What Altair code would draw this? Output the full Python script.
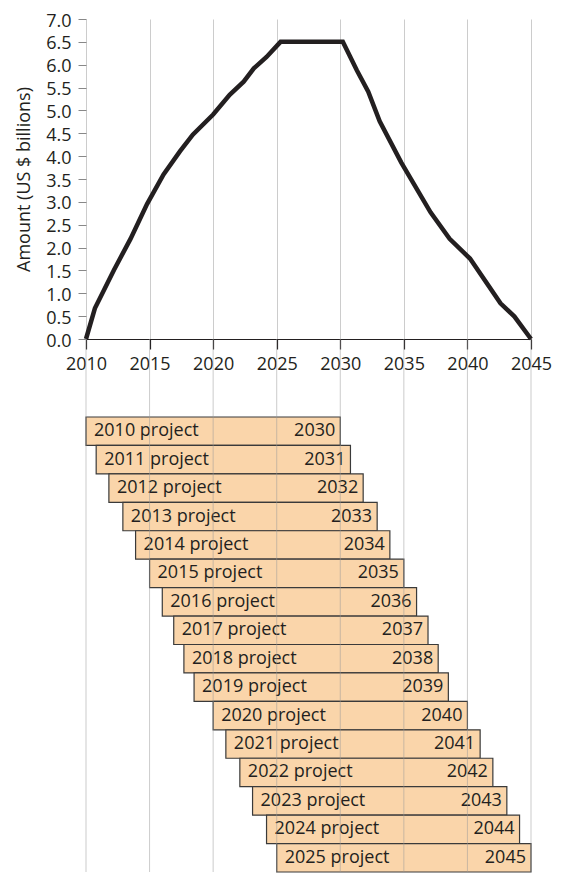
import altair as alt
import pandas as pd

# ---- Top panel: annual amount (US $ billions) ----
line_years = [2010.0, 2010.7, 2012.2, 2013.5, 2014.8, 2016.1, 2017.4, 2018.4,
              2020.0, 2021.3, 2022.4, 2023.2, 2024.2, 2025.3, 2030.2, 2031.3,
              2032.2, 2033.1, 2034.8, 2037.1, 2038.6, 2040.2, 2042.6, 2043.7,
              2045.0]
line_values = [0.0, 0.67, 1.51, 2.19, 2.95, 3.60, 4.11, 4.47,
               4.91, 5.34, 5.63, 5.92, 6.17, 6.50, 6.50, 5.88,
               5.41, 4.76, 3.86, 2.77, 2.19, 1.76, 0.78, 0.49,
               0.0]

x_ticks = [2010, 2015, 2020, 2025, 2030, 2035, 2040, 2045]
y_ticks = [0.0, 0.5, 1.0, 1.5, 2.0, 2.5, 3.0, 3.5, 4.0, 4.5, 5.0, 5.5, 6.0, 6.5, 7.0]

# ---- Bottom panel: project timelines ----
projects = ["2010 project", "2011 project", "2012 project", "2013 project",
            "2014 project", "2015 project", "2016 project", "2017 project",
            "2018 project", "2019 project", "2020 project", "2021 project",
            "2022 project", "2023 project", "2024 project", "2025 project"]
bar_starts = [2010.0, 2010.8, 2011.8, 2012.9, 2013.9, 2015.0, 2016.0, 2016.9,
              2017.7, 2018.5, 2020.0, 2021.0, 2022.1, 2023.1, 2024.2, 2025.0]
bar_ends = [2030.0, 2030.8, 2031.8, 2032.9, 2033.9, 2035.0, 2036.0, 2036.9,
            2037.7, 2038.5, 2040.0, 2041.0, 2042.0, 2043.1, 2044.1, 2045.0]
end_labels = ["2030", "2031", "2032", "2033", "2034", "2035", "2036", "2037",
              "2038", "2039", "2040", "2041", "2042", "2043", "2044", "2045"]

FONT = "Open Sans"
INK = "#231f20"
FS = 18

line_df = pd.DataFrame({"year": line_years, "amount": line_values})
bar_df = pd.DataFrame({"project": projects, "start": bar_starts,
                       "end": bar_ends, "end_label": end_labels})
grid_df = pd.DataFrame({"gx": x_ticks})

xscale = alt.Scale(domain=[2010, 2045], nice=False, zero=False)

W = 445
H_TOP = 320
H_BOT = 455
GAP = 78

line = alt.Chart(line_df).mark_line(
    color=INK, strokeWidth=4.5, strokeJoin="miter"
).encode(
    x=alt.X("year:Q", scale=xscale, title=None,
            axis=alt.Axis(values=x_ticks, format="d", grid=True,
                          gridColor="#cccccc", gridWidth=1,
                          domainColor=INK, domainWidth=1.2,
                          tickColor=INK, tickSize=10, tickWidth=1.2,
                          labelPadding=6, labelFontSize=FS, labelFont=FONT,
                          labelColor=INK, labelFlush=False)),
    y=alt.Y("amount:Q", scale=alt.Scale(domain=[0, 7], nice=False),
            axis=alt.Axis(values=y_ticks, format=".1f", grid=False,
                          domain=False, tickColor="#888888", tickSize=8,
                          labelPadding=7, labelFontSize=FS, labelFont=FONT,
                          labelColor=INK, labelOffset=2,
                          title="Amount (US $ billions)",
                          titleFontSize=FS, titleFont=FONT,
                          titleFontWeight="normal", titleColor=INK,
                          titlePadding=12))
).properties(width=W, height=H_TOP)

ysc = alt.Scale(paddingInner=0, paddingOuter=0)
yenc = alt.Y("project:N", sort=projects, scale=ysc, axis=None)

bars = alt.Chart(bar_df).mark_bar(
    fill="#fad5aa", stroke="#3a3a3a", strokeWidth=1.2
).encode(
    x=alt.X("start:Q", scale=xscale, axis=None),
    x2="end:Q",
    y=yenc,
)

left_text = alt.Chart(bar_df).mark_text(
    align="left", baseline="middle", dx=8, fontSize=FS, font=FONT, color=INK
).encode(x=alt.X("start:Q", scale=xscale, axis=None), y=yenc, text="project:N")

right_text = alt.Chart(bar_df).mark_text(
    align="right", baseline="middle", dx=-5, fontSize=FS, font=FONT, color=INK
).encode(x=alt.X("end:Q", scale=xscale, axis=None), y=yenc, text="end_label:N")

grid = alt.Chart(grid_df).mark_rule(color="#999999", opacity=0.5, strokeWidth=1).encode(
    x=alt.X("gx:Q", scale=xscale, axis=None),
    y=alt.value(-GAP),
    y2=alt.value(H_BOT),
)

bottom = alt.layer(bars, left_text, right_text, grid).properties(width=W, height=H_BOT)

chart = alt.vconcat(line, bottom, spacing=GAP, bounds="flush").properties(
    padding={"left": 7, "top": 4, "right": 5, "bottom": 0}
).configure(font=FONT).configure_view(stroke=None)

chart.save("out.html", embed_options={"renderer": "svg", "actions": False})
